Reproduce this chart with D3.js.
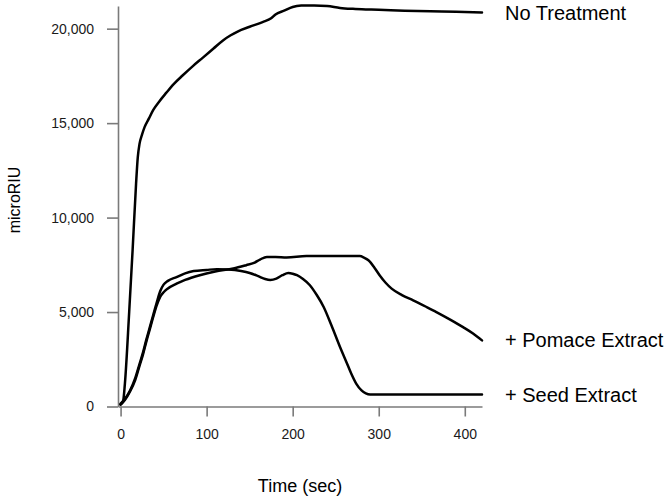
<!DOCTYPE html>
<html><head><meta charset="utf-8">
<script src="https://cdn.jsdelivr.net/npm/d3@7"></script>
<style>
html,body{margin:0;padding:0;background:#fff;}
svg{display:block;font-family:"Liberation Sans",Arial,sans-serif;}
</style></head>
<body>
<svg id="chart" width="672" height="501"></svg>
<script>
// Data (time in sec, response in microRIU)
const noTreatment = [[0,100],[3,300],[5,1200],[10,5000],[14,8300],[18,11800],[20,13200],[22,13900],[25,14400],[28,14800],[33,15250],[38,15700],[45,16150],[53,16600],[62,17080],[72,17520],[84,18020],[96,18480],[108,18950],[119,19380],[128,19650],[136,19850],[150,20100],[165,20350],[175,20550],[180,20750],[190,20950],[200,21150],[210,21220],[225,21230],[240,21200],[255,21100],[270,21050],[285,21020],[300,21000],[330,20950],[360,20920],[390,20900],[420,20860]];
const pomace = [[0,100],[5,350],[11,800],[17,1400],[22,2150],[26,2750],[30,3450],[34,4100],[38,4750],[42,5350],[46,5800],[50,6050],[55,6250],[65,6500],[75,6700],[92,6950],[110,7150],[131,7300],[146,7480],[155,7600],[162,7780],[170,7920],[180,7920],[193,7890],[216,7960],[250,7960],[278,7960],[283,7880],[288,7745],[295,7350],[301,6950],[308,6550],[315,6240],[327,5900],[340,5620],[355,5280],[367,5000],[383,4600],[398,4200],[410,3850],[420,3500]];
const seed = [[0,150],[5,400],[11,850],[17,1500],[22,2250],[26,2850],[30,3550],[34,4200],[38,4850],[42,5500],[46,6100],[50,6450],[55,6650],[65,6850],[75,7050],[85,7170],[100,7230],[112,7270],[125,7250],[140,7170],[150,7070],[160,6900],[168,6750],[174,6700],[181,6770],[188,6950],[195,7070],[200,7030],[205,6950],[212,6750],[220,6420],[228,5900],[236,5270],[245,4300],[255,3150],[262,2400],[268,1750],[274,1200],[280,850],[285,700],[290,640],[320,630],[360,630],[420,630]];
const seriesNames = ["No Treatment", "+ Pomace Extract", "+ Seed Extract"];
const xTicks = [0, 100, 200, 300, 400];
const yTicks = [0, 5000, 10000, 15000, 20000];
const xLabel = "Time (sec)";
const yLabel = "microRIU";

const svg = d3.select("#chart");
const x = d3.scaleLinear().domain([-3, 420]).range([118, 482]);
const y = d3.scaleLinear().domain([0, 21200]).range([406.5, 6]);
const axisColor = "#7a7a7a";

// Y axis
const gy = svg.append("g").attr("transform", `translate(${x(-3)},0)`)
  .call(d3.axisLeft(y).tickValues(yTicks).tickSize(11).tickPadding(13)
    .tickFormat(d3.format(",")).tickSizeOuter(0));
// X axis
const gx = svg.append("g").attr("transform", `translate(0,${y(0)})`)
  .call(d3.axisBottom(x).tickValues(xTicks).tickSize(10).tickPadding(13)
    .tickFormat(d3.format("d")).tickSizeOuter(0));
[gx, gy].forEach(g => {
  g.select(".domain").attr("stroke", axisColor).attr("stroke-width", 1.6);
  g.selectAll(".tick line").attr("stroke", axisColor).attr("stroke-width", 1.6);
  g.selectAll(".tick text").attr("fill", "#1a1a1a")
    .style("font-family", "Liberation Sans, Arial, sans-serif").style("font-size", "14px");
});

// Lines
const line = d3.line().x(d => x(d[0])).y(d => y(d[1])).curve(d3.curveMonotoneX);
[noTreatment, pomace, seed].forEach(s => {
  svg.append("path").datum(s).attr("d", line)
    .attr("fill", "none").attr("stroke", "#000").attr("stroke-width", 2.5)
    .attr("stroke-linejoin", "round").attr("stroke-linecap", "round");
});

// Series labels
const labelY = [20, 347, 402];
seriesNames.forEach((n, i) => {
  svg.append("text").attr("x", 505).attr("y", labelY[i])
    .attr("fill", "#000").style("font-size", "20px").text(n);
});

// Axis titles
svg.append("text").attr("x", 300).attr("y", 492).attr("text-anchor", "middle")
  .attr("fill", "#000").style("font-size", "18px").text(xLabel);
svg.append("text").attr("transform", "translate(20,200) rotate(-90)")
  .attr("text-anchor", "middle").attr("fill", "#000").style("font-size", "16px").text(yLabel);
</script>
</body></html>
